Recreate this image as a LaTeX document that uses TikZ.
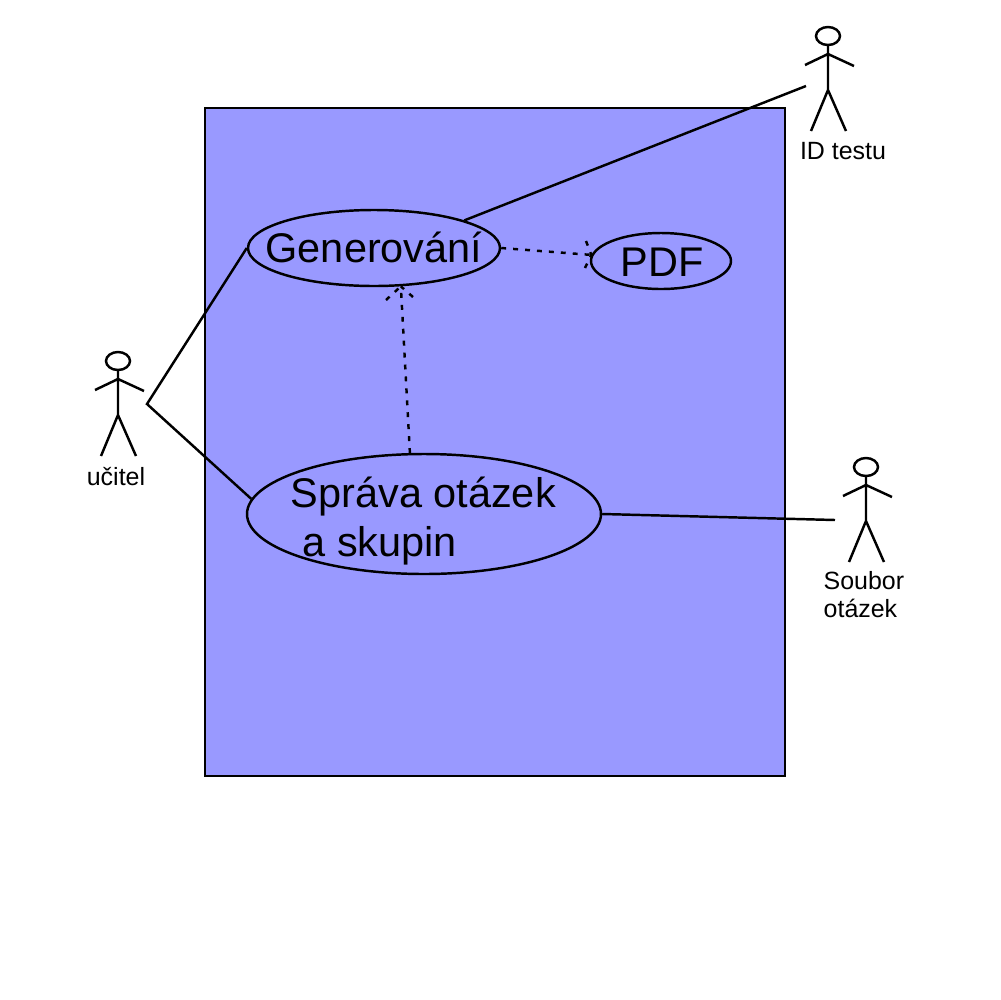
\documentclass[tikz,border=0pt]{standalone}
\usepackage{fontspec}
\setmainfont{Liberation Sans}
\usetikzlibrary{shapes.geometric}
\definecolor{boxblue}{HTML}{9999FF}
\tikzset{
  usecase/.style={draw,ellipse,line width=0.7pt,inner sep=0pt},
  bigtext/.style={font=\fontsize{11.8pt}{13.6pt}\selectfont,inner sep=0pt,align=left},
  smalltext/.style={font=\fontsize{7.1pt}{8pt}\selectfont,inner sep=0pt,align=left},
  assoc/.style={line width=0.7pt},
  dep/.style={line width=0.7pt,dash pattern=on 1.4pt off 2pt},
  actor/.pic={
    \draw[line width=0.7pt] (0,0) ellipse (12 and 9);
    \draw[line width=0.7pt] (0,9) -- (0,54) (-23,29) -- (0,18) -- (26,30)
      (-17,95) -- (0,54) -- (18,95);
  }
}
\begin{document}
\begin{tikzpicture}[x=0.1mm,y=-0.1mm]
  \useasboundingbox (0,0) rectangle (1000,1000);
  \fill[white] (0,0) rectangle (1000,1000);
  \draw[fill=boxblue,line width=0.7pt] (205,108) rectangle (785,776);

  \node[usecase,minimum width=25.2mm,minimum height=7.6mm] (gen) at (374,248) {};
  \node[usecase,minimum width=14mm,minimum height=5.6mm] (pdf) at (661,261) {};
  \node[usecase,minimum width=35.4mm,minimum height=12mm] (sprava) at (424,514) {};
  \node[bigtext] (gentext) at (374,247) {Generování};
  \node[bigtext] (pdftext) at (662,262) {PDF};
  \node[bigtext,anchor=north west] (spravatext) at (290,476) {Správa otázek\\[0.4pt]\hspace{3.4pt}a skupin};

  \pic at (118,361) {actor};
  \pic at (828,36) {actor};
  \pic at (866,467) {actor};
  \node[smalltext] (ucitel) at (116,477) {učitel};
  \node[smalltext] (idtestu) at (843,151) {ID testu};
  \node[smalltext,anchor=north west] (soubor) at (823,571) {Soubor\\otázek};

  \coordinate (ucitelend) at (147,404);
  \coordinate (idend) at (806,86);
  \coordinate (souborend) at (835,520);
  \coordinate (pdftop) at (586,241);
  \coordinate (pdfbottom) at (585,268);
  \coordinate (genleft) at (386,300);
  \coordinate (genright) at (413,297);

  \draw[assoc] (gen.west) -- (ucitelend) -- (sprava.175);
  \draw[assoc] (gen.17.5) -- (idend);
  \draw[assoc] (sprava.east) -- (souborend);

  \draw[dep] (gen.east) -- (pdf.175);
  \draw[dep] (pdftop) -- (pdf.175);
  \draw[dep] (pdfbottom) -- (pdf.175);
  \draw[dep] (sprava.103) -- (gen.-55);
  \draw[dep] (genleft) -- (gen.-55);
  \draw[dep] (genright) -- (gen.-55);
\end{tikzpicture}
\end{document}
